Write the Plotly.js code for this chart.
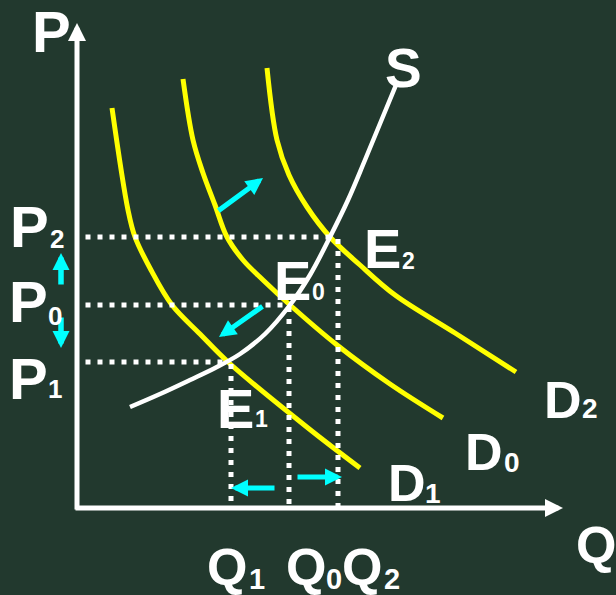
<!DOCTYPE html>
<html>
<head>
<meta charset="utf-8">
<script src="https://cdn.plot.ly/plotly-3.0.1.min.js"></script>
<style>
  html, body { margin: 0; padding: 0; background: #22392e; }
  #chart { width: 616px; height: 595px; }
</style>
</head>
<body>
<div id="chart"></div>
<script>
// ---- data (quantity Q, price P) ----
const d1Q = [3.5, 5.1, 5.8, 7.4, 9.5, 12.3, 15.1, 23.1, 28.3];
const d1P = [40.0, 29.8, 27.1, 23.8, 20.3, 17.4, 14.6, 8.0, 4.0];
const d0Q = [10.6, 11.6, 12.6, 13.8, 15.0, 16.6, 18.6, 21.3, 26.0, 31.3, 36.6];
const d0P = [42.9, 36.8, 33.5, 30.3, 27.1, 24.8, 22.8, 20.3, 16.3, 12.4, 9.0];
const d2Q = [19.0, 20.0, 21.2, 23.0, 25.3, 28.3, 31.8, 37.8, 43.9];
const d2P = [44.0, 36.8, 33.3, 30.1, 27.1, 24.3, 21.3, 17.5, 13.6];
const sQ = [5.3, 8.3, 11.3, 13.8, 16.3, 18.8, 21.3, 23.3, 25.3, 27.1, 28.8, 31.9];
const sP = [10.1, 11.4, 12.8, 14.0, 15.4, 17.4, 20.3, 23.3, 27.1, 30.8, 34.8, 42.3];

// equilibria E1, E0, E2
const eqQ = [15.1, 21.3, 25.3];
const eqP = [14.6, 20.3, 27.1];
// quantity ticks Q1, Q0, Q2 (where the vertical guides stand)
const qTicks = [15.4, 21.2, 26.1];
const eqSubs = ['1', '0', '2'];
const pSubs = ['2', '0', '1'];
const qSubs = ['1', '0', '2'];
const dSubs = ['2', '0', '1'];

// ---- drawing ----
const W = 616, H = 595;
const BG = '#22392e';
const YEL = '#ffff00';
const CYAN = '#00ffff';
const FONT = 'Liberation Sans, Arial, sans-serif';
const guideStart = 0.85;

const traces = [];
function curve(q, p, color, width) {
  traces.push({x: q, y: p, mode: 'lines', hoverinfo: 'skip',
    line: {color: color, width: width, shape: 'spline', smoothing: 1}});
}
curve(d1Q, d1P, YEL, 5);
curve(d0Q, d0P, YEL, 5);
curve(d2Q, d2P, YEL, 5);
curve(sQ, sP, '#ffffff', 4.5);

for (let i = 0; i < eqQ.length; i++) {
  traces.push({x: [guideStart, eqQ[i]], y: [eqP[i], eqP[i]], mode: 'lines', hoverinfo: 'skip',
    line: {color: '#ffffff', width: 5, dash: '5px,7px'}});
  traces.push({x: [qTicks[i], qTicks[i]], y: [eqP[i] - 0.2, 0], mode: 'lines', hoverinfo: 'skip',
    line: {color: '#ffffff', width: 5, dash: '5px,7px'}});
}

const ann = [];
function lbl(t, px, py, size) {
  ann.push({text: t, xref: 'paper', yref: 'paper', x: px / W, y: 1 - py / H,
    xanchor: 'center', yanchor: 'middle', showarrow: false, borderpad: 0,
    font: {family: FONT, size: size, color: '#ffffff', weight: 700}});
}
function arrow(hx, hy, tx, ty, color, width, size) {
  ann.push({text: '', xref: 'paper', yref: 'paper', x: hx / W, y: 1 - hy / H,
    axref: 'pixel', ayref: 'pixel', ax: tx - hx, ay: ty - hy,
    showarrow: true, arrowhead: 2, arrowsize: size, arrowwidth: width,
    arrowcolor: color, standoff: 0, startstandoff: 0, borderpad: 0});
}

// axes
arrow(77, 23, 77, 510, '#ffffff', 5, 0.72);
arrow(563, 508, 75, 508, '#ffffff', 5, 0.72);

// shift arrows
arrow(263, 178, 218, 211, CYAN, 5, 0.68);
arrow(219, 337, 263, 306, CYAN, 5, 0.68);
arrow(231, 488, 275, 488, CYAN, 5, 0.68);
arrow(342, 477, 297, 477, CYAN, 5, 0.68);
arrow(61, 253, 61, 285, CYAN, 5.5, 0.62);
arrow(61, 348, 61, 317, CYAN, 5.5, 0.62);

// axis titles
lbl('P', 51, 31, 58);
lbl('Q', 596, 545, 52);
lbl('S', 403, 67.5, 55);

// price labels P2, P0, P1
const pPos = [[29, 226.5, 56.5, 238.5], [28, 301, 54.5, 316], [28.5, 378.5, 55, 388.5]];
pSubs.forEach((s, i) => { lbl('P', pPos[i][0], pPos[i][1], 58); lbl(s, pPos[i][2], pPos[i][3], 26); });

// quantity labels Q1, Q0, Q2
const qPos = [[226.5, 256.5], [306, 333.5], [362, 391.5]];
qSubs.forEach((s, i) => { lbl('Q', qPos[i][0], 567, 52); lbl(s, qPos[i][1], 578.5, 29); });

// equilibrium labels E1, E0, E2
const ePos = [[235, 408, 261.5, 419], [292, 280, 318.5, 291.5], [382, 248, 408, 260.5]];
eqSubs.forEach((s, i) => { lbl('E', ePos[i][0], ePos[i][1], 56); lbl(s, ePos[i][2], ePos[i][3], 23); });

// demand labels D2, D0, D1
const dPos = [[562.5, 400, 590, 408], [483.5, 452, 512, 462], [406.5, 483, 433, 493]];
dSubs.forEach((s, i) => { lbl('D', dPos[i][0], dPos[i][1], 52); lbl(s, dPos[i][2], dPos[i][3], 28); });

const layout = {
  width: W, height: H,
  margin: {l: 0, r: 0, t: 0, b: 0, pad: 0},
  paper_bgcolor: BG, plot_bgcolor: BG,
  showlegend: false,
  xaxis: {range: [-7.7, 53.9], visible: false, fixedrange: true},
  yaxis: {range: [-8.7, 50.8], visible: false, fixedrange: true},
  annotations: ann
};

Plotly.newPlot('chart', traces, layout, {displayModeBar: false, staticPlot: true});
</script>
</body>
</html>
